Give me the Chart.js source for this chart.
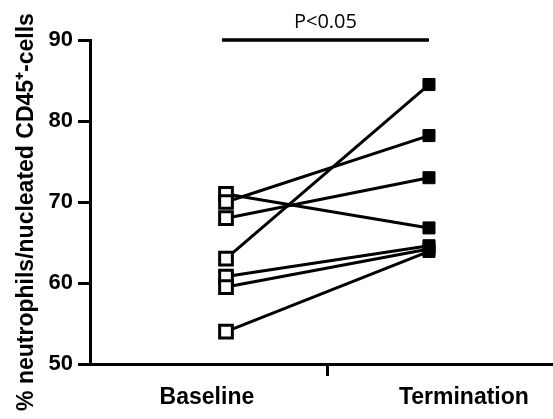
<!DOCTYPE html>
<html>
<head>
<meta charset="utf-8">
<script src="https://cdn.jsdelivr.net/npm/chart.js@4"></script>
<style>
html,body{margin:0;padding:0;background:#fff;}
#wrap{width:553px;height:419px;}
</style>
</head>
<body>
<div id="wrap"><canvas id="c" width="553" height="419"></canvas></div>
<script>
// Data
const categories = ['Baseline', 'Termination'];
const categoryX = [1, 2];
const baseline = [71.0, 70.0, 68.0, 63.0, 60.8, 59.5, 54.0];
const termination = [66.8, 78.2, 73.0, 84.5, 64.6, 64.2, 63.9];
const yTicks = [50, 60, 70, 80, 90];
const bracketX = [0.98, 2.0];
const bracketY = 90;
const bracketText = 'P<0.05';
const yTitle = '% neutrophils/nucleated CD45\u207A-cells';

// label placement (layout only)
const labelPos = [0.906, 2.172];
const midTick = 1.5;

const datasets = [];
for (let i = 0; i < baseline.length; i++) {
  datasets.push({
    type: 'line',
    data: [{x: categoryX[0], y: baseline[i]}, {x: categoryX[1], y: termination[i]}],
    borderColor: '#000', borderWidth: 3, pointRadius: 0, fill: false, order: 2
  });
}
datasets.push({
  type: 'scatter',
  data: baseline.map(v => ({x: categoryX[0], y: v})),
  pointStyle: 'rect', pointRadius: 9, pointBorderWidth: 3,
  pointBackgroundColor: '#fff', pointBorderColor: '#000', order: 0
});
datasets.push({
  type: 'scatter',
  data: termination.map(v => ({x: categoryX[1], y: v})),
  pointStyle: 'rect', pointRadius: 8.5, pointBorderWidth: 1,
  pointBackgroundColor: '#000', pointBorderColor: '#000', order: 0
});
datasets.push({
  type: 'line',
  data: [{x: bracketX[0], y: bracketY}, {x: bracketX[1], y: bracketY}],
  borderColor: '#000', borderWidth: 3.5, pointRadius: 0, clip: false, order: 1
});

const textPlugin = {
  id: 'ptext',
  afterDraw(chart) {
    const ctx = chart.ctx;
    const xs = chart.scales.x, ys = chart.scales.y;
    const cx = xs.getPixelForValue((bracketX[0] + bracketX[1]) / 2);
    const cy = ys.getPixelForValue(bracketY) - 18;
    ctx.save();
    ctx.font = '20px "Open Sans"';
    ctx.fillStyle = '#000';
    ctx.textAlign = 'center';
    ctx.textBaseline = 'middle';
    ctx.fillText(bracketText, cx, cy);
    // y axis title
    ctx.font = 'bold 23px "Liberation Sans", Arial';
    ctx.translate(27, 212);
    ctx.rotate(-Math.PI / 2);
    ctx.fillText(yTitle, 0, 0);
    ctx.restore();
  }
};

new Chart(document.getElementById('c'), {
  data: { datasets },
  options: {
    responsive: false,
    animation: false,
    layout: { autoPadding: false, padding: { top: 40, right: 0, left: 0, bottom: 0 } },
    plugins: { legend: { display: false }, tooltip: { enabled: false } },
    scales: {
      x: {
        type: 'linear', min: 0.33, max: 2.611,
        afterBuildTicks: s => { s.ticks = [{value: labelPos[0]}, {value: midTick}, {value: labelPos[1]}]; },
        afterFit: s => { s.height = 55; s.paddingLeft = 0; s.paddingRight = 0; },
        border: { display: true, color: '#000', width: 3 },
        grid: {
          display: true, drawOnChartArea: false, tickLength: 12, tickWidth: 3,
          tickColor: c => (c.tick && c.tick.value === midTick) ? '#000' : 'rgba(0,0,0,0)'
        },
        ticks: {
          autoSkip: false, maxRotation: 0, padding: 8, color: '#000',
          font: { family: 'Liberation Sans, Arial', size: 23, weight: 'bold' },
          callback: v => v === labelPos[0] ? categories[0] : (v === labelPos[1] ? categories[1] : '')
        }
      },
      y: {
        type: 'linear', min: 50, max: 90,
        afterBuildTicks: s => { s.ticks = yTicks.map(v => ({value: v})); },
        afterFit: s => { s.width = 90; },
        border: { display: true, color: '#000', width: 3 },
        grid: { display: true, drawOnChartArea: false, tickLength: 12, tickWidth: 3, tickColor: '#000' },
        ticks: {
          padding: 5, color: '#000',
          font: { family: 'Liberation Sans, Arial', size: 22, weight: 'bold' }
        },
        title: { display: false }
      }
    }
  },
  plugins: [textPlugin]
});
</script>
</body>
</html>
